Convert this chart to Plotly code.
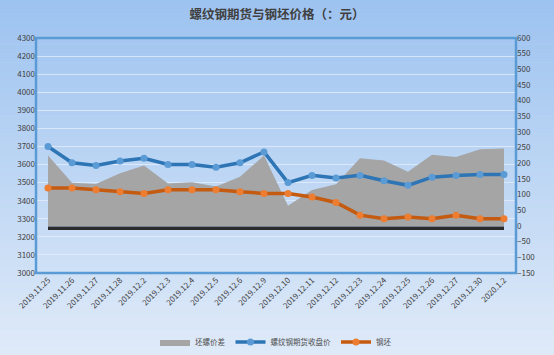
import plotly.graph_objects as go

dates = ["2019.11.25", "2019.11.26", "2019.11.27", "2019.11.28", "2019.12.2",
         "2019.12.3", "2019.12.4", "2019.12.5", "2019.12.6", "2019.12.9",
         "2019.12.10", "2019.12.11", "2019.12.12", "2019.12.23", "2019.12.24",
         "2019.12.25", "2019.12.26", "2019.12.27", "2019.12.30", "2020.1.2"]
rebar_close = [3700, 3610, 3595, 3620, 3635, 3600, 3600, 3585, 3610, 3670,
               3500, 3540, 3525, 3540, 3510, 3485, 3530, 3540, 3545, 3545]
billet = [3470, 3470, 3460, 3450, 3440, 3460, 3460, 3460, 3450, 3440,
          3440, 3420, 3390, 3320, 3300, 3310, 3300, 3320, 3300, 3300]
spread = [225, 138, 134, 168, 193, 136, 140, 126, 157, 225,
          65, 115, 133, 216, 209, 173, 227, 220, 245, 247]

left_ticks = list(range(3000, 4301, 100))
right_ticks = list(range(-150, 601, 50))

W, H = 554, 355
ML, MR, MT, MB = 36, 38, 38, 82
PW, PH = W - ML - MR, H - MT - MB

fig = go.Figure()

# spread area on the base (right-side) axis so that the lines draw above it
fig.add_trace(go.Scatter(
    x=dates, y=spread, name="坯螺价差", yaxis="y", mode="lines",
    line=dict(width=0, color="#a5a5a5"), fill="tozeroy", fillcolor="#a5a5a5",
))
fig.add_trace(go.Scatter(
    x=dates, y=rebar_close, name="螺纹钢期货收盘价", yaxis="y2", mode="lines+markers",
    line=dict(color="#2e75b6", width=3.5),
    marker=dict(color="#5b9bd5", size=7),
))
fig.add_trace(go.Scatter(
    x=dates, y=billet, name="钢坯", yaxis="y2", mode="lines+markers",
    line=dict(color="#c55a11", width=3.5),
    marker=dict(color="#ed7d31", size=7),
))

# gradient background strips
shapes = []
N = 80
top = (157, 195, 240)
bot = (223, 234, 248)
y_lo = -MB / PH
y_hi = (H - MB) / PH
x_lo = -ML / PW
x_hi = (W - ML) / PW
for i in range(N):
    t = i / (N - 1)
    c = tuple(round(top[k] + (bot[k] - top[k]) * t) for k in range(3))
    ya = y_hi - (y_hi - y_lo) * i / N
    yb = y_hi - (y_hi - y_lo) * (i + 1) / N - 0.002
    shapes.append(dict(type="rect", xref="paper", yref="paper", x0=x_lo, x1=x_hi,
                       y0=yb, y1=ya, fillcolor="rgb(%d,%d,%d)" % c,
                       line=dict(width=0), layer="below"))
# dark baseline band under the spread area
shapes.append(dict(type="rect", xref="x", yref="y", x0=0, x1=len(dates) - 1,
                   ysizemode="pixel", yanchor=0, y0=-0.5, y1=-4,
                   fillcolor="#2b2b2b", line=dict(width=0), layer="above"))
# plot border
shapes.append(dict(type="rect", xref="paper", yref="paper", x0=0, x1=1, y0=0, y1=1,
                   line=dict(color="#5b9bd5", width=2.5), fillcolor="rgba(0,0,0,0)",
                   layer="above"))

font_fam = "Noto Sans CJK SC, DejaVu Sans, sans-serif"
tf = dict(size=8, color="#404040")
fig.update_layout(
    width=W, height=H,
    margin=dict(l=ML, r=MR, t=MT, b=MB, pad=0, autoexpand=False),
    paper_bgcolor="#c7dcf5",
    plot_bgcolor="rgba(0,0,0,0)",
    shapes=shapes,
    font=dict(family=font_fam, size=9, color="#404040"),
    title=dict(text="<b>螺纹钢期货与钢坯价格（：元）</b>", x=0.5, xanchor="center",
               y=1 - 15 / H, yanchor="middle", font=dict(size=12.5, color="#404040", family=font_fam)),
    xaxis=dict(type="category", range=[-0.5, len(dates) - 0.5], tickangle=-45,
               showgrid=False, showline=False, ticks="", zeroline=False,
               automargin=False, tickfont=tf),
    yaxis=dict(range=[-150, 600], tickvals=right_ticks, side="right",
               showgrid=False, zeroline=False, showline=False, ticks="",
               automargin=False, tickfont=tf),
    yaxis2=dict(range=[3000, 4300], tickvals=left_ticks, overlaying="y", side="left",
                showgrid=True, gridcolor="rgba(230,239,251,0.75)", gridwidth=1,
                zeroline=False, showline=False, ticks="", automargin=False, tickfont=tf),
    legend=dict(orientation="h", x=0.5, xanchor="center", y=-69 / PH, yanchor="middle",
                font=dict(size=7.5, color="#505050"), bgcolor="rgba(0,0,0,0)",
                itemwidth=30, tracegroupgap=0),
    showlegend=True,
)

fig.write_html("out.html", config={"displayModeBar": False},
               post_script="document.body.style.margin='0';")
